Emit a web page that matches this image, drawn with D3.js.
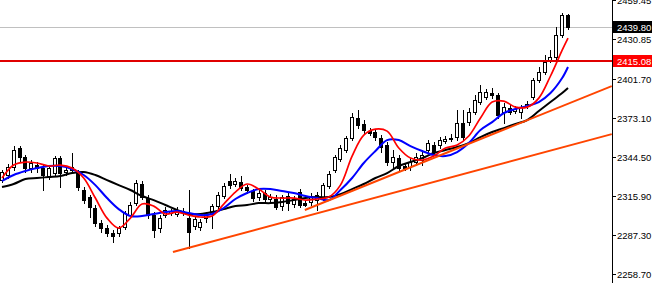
<!DOCTYPE html>
<html><head><meta charset="utf-8">
<script src="https://cdn.jsdelivr.net/npm/d3@7"></script>
<style>html,body{margin:0;padding:0;background:#fff;overflow:hidden}svg{display:block}</style>
</head><body><div id="chart"></div>
<script>
// ---- Data ----
const open  = [2327.6,2331.3,2337.1,2351.1,2344.5,2336.4,2338.6,2336.4,2329.8,2332.7,2343.7,2333.5,2334.9,2332.7,2320.3,2315.1,2307.1,2296.1,2292.4,2288.7,2288.7,2293.1,2301.9,2310.7,2324.7,2314.4,2301.9,2292.4,2301.9,2303.4,2302.7,2304.1,2299.7,2293.9,2293.1,2299.7,2302.7,2308.5,2315.9,2326.9,2324.7,2326.1,2322.5,2319.5,2315.1,2318.1,2313.7,2313.7,2308.5,2315.9,2310.0,2318.8,2310.7,2311.5,2312.9,2314.4,2323.2,2334.9,2343.0,2349.6,2358.4,2373.1,2368.7,2363.5,2362.8,2358.4,2353.3,2340.8,2343.7,2337.9,2337.1,2340.8,2342.3,2349.6,2353.3,2353.3,2356.2,2358.4,2359.1,2369.4,2370.1,2377.5,2384.8,2388.5,2391.4,2389.9,2377.5,2380.4,2378.2,2377.5,2381.9,2388.5,2400.9,2406.8,2415.6,2417.8,2433.9,2448.6];
const high  = [2334.9,2339.3,2352.5,2352.5,2345.9,2342.3,2340.8,2338.6,2338.6,2345.2,2345.2,2337.9,2347.4,2334.9,2322.5,2316.6,2309.3,2298.3,2294.6,2290.9,2293.9,2304.9,2311.5,2327.6,2326.9,2316.6,2304.1,2301.9,2307.8,2306.3,2307.8,2307.1,2320.3,2301.2,2299.0,2304.1,2310.0,2318.8,2325.4,2332.0,2329.1,2330.5,2323.9,2321.0,2320.3,2320.3,2317.3,2316.6,2316.6,2318.1,2315.9,2321.0,2312.2,2318.1,2318.8,2325.4,2334.2,2345.9,2353.3,2359.9,2376.7,2378.9,2371.6,2365.7,2365.0,2360.6,2355.5,2349.6,2345.9,2340.1,2343.7,2347.4,2349.6,2356.9,2355.5,2359.1,2359.9,2361.3,2378.9,2378.9,2380.4,2389.9,2397.3,2394.3,2395.1,2391.4,2384.1,2382.6,2381.9,2382.6,2385.5,2402.4,2410.5,2419.3,2422.9,2439.8,2450.1,2449.3];
const low   = [2326.1,2329.1,2334.9,2340.8,2333.5,2333.5,2333.5,2320.3,2328.3,2330.5,2322.5,2331.3,2333.5,2320.3,2310.7,2300.5,2293.9,2289.5,2286.5,2282.1,2286.5,2291.7,2300.5,2309.3,2313.7,2299.7,2285.8,2289.5,2300.5,2301.9,2301.2,2301.9,2277.7,2291.7,2290.9,2296.8,2292.4,2307.1,2314.4,2321.7,2323.2,2320.3,2318.1,2312.2,2312.9,2310.7,2311.5,2306.3,2305.6,2305.6,2307.8,2307.8,2308.5,2309.3,2305.6,2312.9,2321.7,2333.5,2341.5,2348.1,2356.9,2365.7,2362.1,2360.6,2356.9,2348.1,2338.6,2336.4,2334.9,2334.9,2334.9,2338.6,2338.6,2347.4,2345.9,2351.1,2354.7,2356.2,2356.9,2356.9,2367.9,2376.0,2383.3,2387.0,2387.7,2373.1,2369.4,2376.0,2376.7,2373.1,2380.4,2387.0,2399.5,2405.3,2414.1,2416.3,2432.5,2438.3];
const close = [2333.5,2337.1,2349.6,2344.5,2336.4,2340.1,2336.4,2331.3,2336.4,2343.7,2332.7,2334.9,2337.1,2322.5,2312.9,2307.8,2296.1,2292.4,2288.7,2286.5,2292.4,2303.4,2309.3,2325.4,2315.1,2301.9,2290.9,2299.7,2305.6,2304.9,2305.6,2304.9,2289.5,2299.0,2296.8,2302.7,2308.5,2316.6,2323.2,2323.9,2326.9,2321.7,2320.3,2314.4,2318.1,2313.7,2315.1,2307.8,2315.1,2310.7,2313.7,2309.3,2309.3,2315.9,2316.6,2323.9,2332.0,2344.5,2351.1,2358.4,2373.8,2367.9,2364.3,2362.1,2359.1,2351.8,2340.8,2344.5,2336.4,2336.4,2340.8,2344.5,2345.9,2354.7,2348.1,2356.9,2357.7,2357.7,2369.4,2359.1,2377.5,2386.3,2392.1,2392.1,2389.9,2375.3,2381.1,2377.5,2379.7,2381.1,2383.3,2400.9,2406.8,2414.1,2417.8,2433.9,2448.6,2439.8];

const maIndex = [0,2,4,6,8,10,12,14,16,18,20,22,24,26,28,30,32,34,36,38,40,42,44,46,48,50,52,54,56,58,60,62,64,66,68,70,72,74,76,78,80,82,84,86,88,90,92,94,96,97];
const maFast = [2329.1,2338.6,2340.8,2340.1,2337.9,2338.6,2336.4,2329.1,2314.4,2299.7,2292.4,2299.7,2310.0,2308.5,2302.7,2304.1,2301.9,2300.5,2301.2,2310.0,2318.8,2324.7,2321.0,2315.1,2314.4,2314.4,2312.9,2313.7,2315.1,2323.9,2345.2,2360.6,2365.0,2363.5,2351.1,2343.7,2342.3,2345.2,2351.1,2353.3,2359.9,2373.1,2384.8,2385.5,2381.1,2381.1,2387.7,2403.9,2422.9,2431.7];
const maMid  = [2326.9,2331.3,2334.2,2336.4,2337.9,2337.9,2335.7,2331.3,2323.9,2314.4,2306.3,2301.2,2301.2,2302.7,2304.1,2304.9,2303.4,2301.9,2302.7,2307.1,2313.7,2318.1,2321.0,2321.0,2319.5,2318.1,2315.9,2314.4,2312.9,2320.3,2329.1,2340.1,2348.9,2356.9,2356.9,2352.5,2348.9,2345.9,2345.2,2348.1,2354.7,2364.3,2370.1,2376.7,2379.7,2381.9,2384.8,2391.4,2402.4,2410.5];
const maSlow = [2322.5,2324.7,2328.3,2329.1,2329.8,2330.5,2332.7,2333.5,2331.3,2327.6,2323.9,2320.3,2315.9,2312.9,2309.3,2305.6,2302.7,2302.7,2304.1,2306.3,2308.5,2309.3,2310.7,2310.7,2311.5,2312.9,2314.4,2315.1,2315.1,2317.3,2321.0,2324.7,2329.1,2332.7,2337.9,2340.8,2343.7,2347.4,2349.6,2351.8,2354.7,2359.1,2362.8,2365.7,2368.7,2371.6,2378.2,2384.8,2391.4,2395.1];

const tickValues = [2459.45,2430.85,2401.70,2373.10,2344.50,2315.90,2287.30,2258.70];
const tickLabels = ["2459.45","2430.85","2401.70","2373.10","2344.50","2315.90","2287.30","2258.70"];
const bidPrice = 2439.80, bidLabel = "2439.80";
const levelPrice = 2415.08, levelLabel = "2415.08";
// trend lines: [startIndex, startPrice, endIndex, endPrice]
const trendStartIdx = [29.3, 51.9];
const trendStartPrice = [2274.8, 2305.6];
const trendEndIdx = [104.5, 104.5];
const trendEndPrice = [2361.3, 2396.5];

// ---- Drawing ----
const W = 652, H = 283, axisX = 612;
const svg = d3.select("#chart").append("svg").attr("width", W).attr("height", H)
  .style("font-family", "'Liberation Sans', Arial, sans-serif");
svg.append("rect").attr("width", W).attr("height", H).attr("fill", "#fff");
svg.append("defs").append("clipPath").attr("id", "plot")
  .append("rect").attr("x", 0).attr("y", 0).attr("width", axisX).attr("height", H);

const x = d3.scaleLinear().domain([0, open.length - 1]).range([2, 568]);
const y = d3.scaleLinear().domain([2258.70, 2459.45]).range([274, 0.25]);

const plot = svg.append("g").attr("clip-path", "url(#plot)");

// bid grey line
plot.append("line").attr("x1", 0).attr("x2", axisX)
  .attr("y1", Math.round(y(bidPrice)) + 0.5).attr("y2", Math.round(y(bidPrice)) + 0.5)
  .attr("stroke", "#c0c0c0").attr("stroke-width", 1);

// candles
const candles = plot.append("g");
open.forEach((o, i) => {
  const c = close[i];
  const cx = Math.round(x(i));
  candles.append("line").attr("x1", cx + 0.5).attr("x2", cx + 0.5)
    .attr("y1", Math.round(y(high[i]))).attr("y2", Math.round(y(low[i])) + 1)
    .attr("stroke", "#000").attr("stroke-width", 1);
  const top = Math.round(y(Math.max(o, c)));
  const bot = Math.round(y(Math.min(o, c)));
  candles.append("rect").attr("x", cx - 1.5).attr("y", top + 0.5)
    .attr("width", 3).attr("height", Math.max(bot - top, 0))
    .attr("fill", c >= o ? "#fff" : "#000").attr("stroke", "#000").attr("stroke-width", 1);
});

// moving averages
const maLine = vals => d3.line().curve(d3.curveCatmullRom.alpha(0.5))
  .x((d, k) => x(maIndex[k])).y(d => y(d))(vals);
plot.append("path").attr("d", maLine(maSlow)).attr("fill", "none").attr("stroke", "#000").attr("stroke-width", 2);
plot.append("path").attr("d", maLine(maMid)).attr("fill", "none").attr("stroke", "#0000ff").attr("stroke-width", 2);
plot.append("path").attr("d", maLine(maFast)).attr("fill", "none").attr("stroke", "#ff0000").attr("stroke-width", 1.7);

// trend lines
trendStartIdx.forEach((s, k) => {
  plot.append("line").attr("x1", x(s)).attr("y1", y(trendStartPrice[k]))
    .attr("x2", x(trendEndIdx[k])).attr("y2", y(trendEndPrice[k]))
    .attr("stroke", "#ff4500").attr("stroke-width", 2);
});

// horizontal level
plot.append("line").attr("x1", 0).attr("x2", axisX)
  .attr("y1", Math.round(y(levelPrice))).attr("y2", Math.round(y(levelPrice)))
  .attr("stroke", "#e00000").attr("stroke-width", 2);

// right price axis
svg.append("line").attr("x1", axisX + 0.5).attr("x2", axisX + 0.5).attr("y1", 0).attr("y2", H)
  .attr("stroke", "#000").attr("stroke-width", 1);
const ax = svg.append("g");
const fs = 9.5;
tickValues.forEach((v, k) => {
  const yy = Math.round(y(v)) + 0.5;
  ax.append("line").attr("x1", axisX + 1).attr("x2", axisX + 4).attr("y1", yy).attr("y2", yy)
    .attr("stroke", "#000");
  ax.append("text").attr("x", axisX + 5).attr("y", yy).attr("dy", "0.35em")
    .attr("font-size", fs).attr("fill", "#000").text(tickLabels[k]);
});
function priceTag(v, label, bg) {
  const yy = Math.round(y(v));
  ax.append("rect").attr("x", axisX + 1).attr("y", yy - 6).attr("width", W - axisX - 1).attr("height", 12).attr("fill", bg);
  ax.append("text").attr("x", axisX + 5).attr("y", yy + 0.5).attr("dy", "0.35em")
    .attr("font-size", fs).attr("fill", "#fff").text(label);
}
priceTag(bidPrice, bidLabel, "#000");
priceTag(levelPrice, levelLabel, "#ff0000");
</script>
</body></html>
